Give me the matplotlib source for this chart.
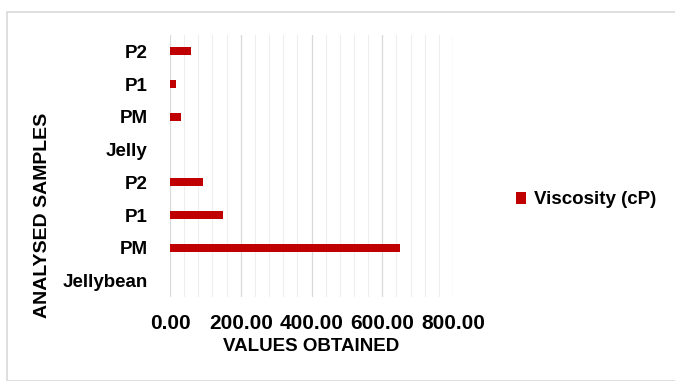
import matplotlib
matplotlib.use("Agg")
import matplotlib.pyplot as plt
from matplotlib.patches import Rectangle
from matplotlib.ticker import MultipleLocator, FuncFormatter

# Samples listed bottom to top
samples = ["Jellybean", "PM", "P1", "P2", "Jelly", "PM", "P1", "P2"]
viscosity = [0, 651, 150, 94, 0, 31, 18, 58]
series_name = "Viscosity (cP)"
x_ticks = [0, 200, 400, 600, 800]

plt.rcParams["font.family"] = ["Liberation Sans", "DejaVu Sans"]

fig = plt.figure(figsize=(6.75, 3.81), dpi=100)
fig.patches.append(Rectangle((7 / 675, 0), 1, 1 - 12 / 381, transform=fig.transFigure,
                             fill=False, edgecolor="#d9d9d9", linewidth=1.2))

ax = fig.add_axes([170 / 675, 84 / 381, 283 / 675, 262 / 381])
pos = list(range(len(samples)))
ax.barh(pos, viscosity, height=0.24, color="#c00000", label=series_name, zorder=3)

ax.set_xlim(0, 800)
ax.set_ylim(-0.5, len(samples) - 0.5)
ax.set_yticks(pos)
ax.set_yticklabels(samples, fontsize=13.5, fontweight="bold")
ax.set_xticks(x_ticks)
ax.xaxis.set_major_formatter(FuncFormatter(lambda v, p: f"{v:.2f}"))
ax.xaxis.set_minor_locator(MultipleLocator(40))
for lbl in ax.get_xticklabels():
    lbl.set_fontsize(15)
    lbl.set_fontweight("bold")

ax.grid(axis="x", which="major", color="#d9d9d9", linewidth=0.9, zorder=0)
ax.grid(axis="x", which="minor", color="#eeeeee", linewidth=0.8, zorder=0)
ax.tick_params(axis="both", which="both", length=0)
ax.tick_params(axis="x", pad=12)
ax.tick_params(axis="y", pad=16)
for s in ax.spines.values():
    s.set_visible(False)

ax.set_xlabel("VALUES OBTAINED", fontsize=13.5, fontweight="bold", labelpad=4)
ax.set_ylabel("ANALYSED SAMPLES", fontsize=14, fontweight="bold")
ax.yaxis.set_label_coords(-0.42, 0.31)

fig.legend(handles=ax.get_legend_handles_labels()[0], labels=[series_name],
           loc="center left", bbox_to_anchor=(499 / 675, 1 - 200 / 381),
           frameon=False, prop={"size": 13.5, "weight": "bold"},
           handlelength=0.55, handleheight=0.55, handletextpad=0.4)

fig.savefig("out.png", dpi=100)
